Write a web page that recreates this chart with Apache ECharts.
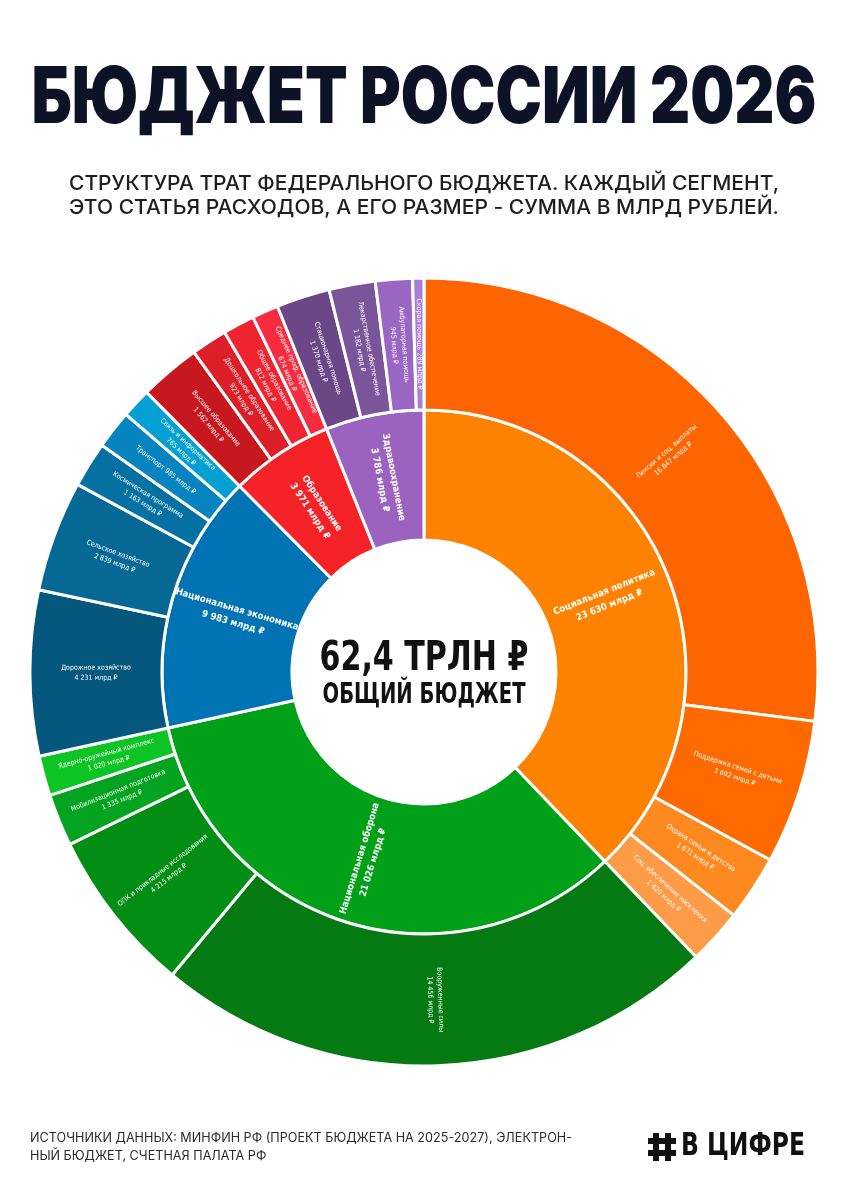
<!DOCTYPE html>
<html>
<head>
<meta charset="utf-8">
<script src="https://cdn.jsdelivr.net/npm/echarts@6/dist/echarts.min.js"></script>
<style>
  html, body { margin: 0; padding: 0; background: #fff; }
  #chart { width: 848px; height: 1200px; }
</style>
</head>
<body>
<div id="chart"></div>
<script>
// Разделы бюджета (внутреннее кольцо), млрд руб.
const groupNames = ["Социальная политика", "Национальная оборона", "Национальная экономика", "Образование", "Здравоохранение"];
const groupValues = [23630, 21026, 9983, 3971, 3786];

// Статьи расходов (внешнее кольцо), млрд руб.
const itemNames = [
  ["Пенсии и соц. выплаты", "Поддержка семей с детьми", "Охрана семьи и детства", "Соц. обеспечение населения"],
  ["Вооруженные силы", "ОПК и прикладные исследования", "Мобилизационная подготовка", "Ядерно-оружейный комплекс"],
  ["Дорожное хозяйство", "Сельское хозяйство", "Космическая программа", "Транспорт", "Связь и информатика"],
  ["Высшее образование", "Дошкольное образование", "Общее образование", "Среднее проф. образование"],
  ["Стационарная помощь", "Лекарственное обеспечение", "Амбулаторная помощь", "Скорая помощь"]
];
const itemValues = [
  [16847, 3692, 1671, 1420],
  [14456, 4215, 1335, 1020],
  [4231, 2839, 1163, 985, 765],
  [1562, 923, 812, 674],
  [1370, 1182, 945, 289]
];
const singleLine = ["Транспорт", "Скорая помощь"];

const groupColors = ["#fe8100", "#00a019", "#0073b4", "#f52227", "#9b62c0"];
const itemColors = [
  ["#fd6500", "#fe6a00", "#fe8a1f", "#fe9b46"],
  ["#067a12", "#028d14", "#05a420", "#0cc423"],
  ["#06577e", "#066895", "#0571a3", "#0584c0", "#04a0d3"],
  ["#c8181f", "#dc1f28", "#ee2430", "#f82c40"],
  ["#6b4787", "#7b559a", "#9a66c3", "#a97ed6"]
];

const fmt = (v) => String(v).replace(/\B(?=(\d{3})+(?!\d))/g, " ");
const condensed = "'DejaVu Sans Condensed', sans-serif";

// подгонка ширины надписи по горизонтали
const ctx = document.createElement("canvas").getContext("2d");
function fitScale(text, font, width) {
  ctx.font = font;
  const lines = text.split("\n");
  const w = Math.max(...lines.map((l) => ctx.measureText(l).width));
  return width / w;
}

const data = groupNames.map((name, g) => ({
  name,
  value: groupValues[g],
  itemStyle: { color: groupColors[g] },
  children: itemNames[g].map((child, i) => ({
    name: child,
    value: itemValues[g][i],
    itemStyle: { color: itemColors[g][i] }
  }))
}));

function fittedText(text, x, y, family, weight, size, width, fill, extra) {
  const sx = fitScale(text, `${weight} ${size}px ${family}`, width);
  return {
    type: "text",
    x,
    y,
    scaleX: sx,
    style: Object.assign({ text, fontFamily: family, fontWeight: weight, fontSize: size, fill }, extra || {})
  };
}

const titleText = "БЮДЖЕТ РОССИИ 2026";
const subText = "СТРУКТУРА ТРАТ ФЕДЕРАЛЬНОГО БЮДЖЕТА. КАЖДЫЙ СЕГМЕНТ,\nЭТО СТАТЬЯ РАСХОДОВ, А ЕГО РАЗМЕР - СУММА В МЛРД РУБЛЕЙ.";
const sourceText = "ИСТОЧНИКИ ДАННЫХ: МИНФИН РФ (ПРОЕКТ БЮДЖЕТА НА 2025-2027), ЭЛЕКТРОН-\nНЫЙ БЮДЖЕТ, СЧЕТНАЯ ПАЛАТА РФ";

const chart = echarts.init(document.getElementById("chart"));
chart.setOption({
  backgroundColor: "#fff",
  animation: false,
  series: [
    {
      type: "sunburst",
      center: [424, 672],
      sort: null,
      nodeClick: false,
      emphasis: { disabled: true },
      itemStyle: { borderColor: "#fff", borderWidth: 3 },
      label: {
        rotate: "radial",
        color: "#fff",
        fontFamily: condensed,
        formatter: (p) =>
          singleLine.includes(p.name)
            ? p.name + " " + fmt(p.value) + " млрд ₽"
            : p.name + "\n" + fmt(p.value) + " млрд ₽"
      },
      levels: [
        {},
        { r0: 132, r: 262, label: { fontSize: 9.5, fontWeight: "bold", lineHeight: 14 } },
        { r0: 262, r: 394, label: { fontSize: 7, lineHeight: 10 } }
      ],
      data
    }
  ],
  graphic: [
    fittedText(titleText, 424, 100, "Inter", 900, 78, 785, "#0d1226", { align: "center", verticalAlign: "middle" }),
    fittedText(subText, 424, 196, "Inter", 500, 20, 710, "#1e1e1e", { align: "center", verticalAlign: "middle", lineHeight: 24 }),
    fittedText("62,4 ТРЛН ₽", 424, 660, condensed, "bold", 40, 209, "#111", { align: "center", verticalAlign: "middle" }),
    fittedText("ОБЩИЙ БЮДЖЕТ", 424, 696, condensed, "bold", 28, 203, "#111", { align: "center", verticalAlign: "middle" }),
    fittedText(sourceText, 30, 1147, "Inter", 400, 12.5, 542, "#2a2a2a", { align: "left", verticalAlign: "middle", lineHeight: 18 }),
    {
      type: "group",
      x: 648,
      y: 1133,
      children: [
        { type: "rect", shape: { x: 5, y: 0, width: 6, height: 28 }, style: { fill: "#111" } },
        { type: "rect", shape: { x: 17, y: 0, width: 6, height: 28 }, style: { fill: "#111" } },
        { type: "rect", shape: { x: 0, y: 5, width: 28, height: 6 }, style: { fill: "#111" } },
        { type: "rect", shape: { x: 0, y: 17, width: 28, height: 6 }, style: { fill: "#111" } },
        { type: "circle", shape: { cx: 14, cy: 14, r: 3 }, style: { fill: "#fff" } }
      ]
    },
    fittedText("В ЦИФРЕ", 681, 1147, condensed, "bold", 32, 124, "#111", { align: "left", verticalAlign: "middle" })
  ]
});
</script>
</body>
</html>
